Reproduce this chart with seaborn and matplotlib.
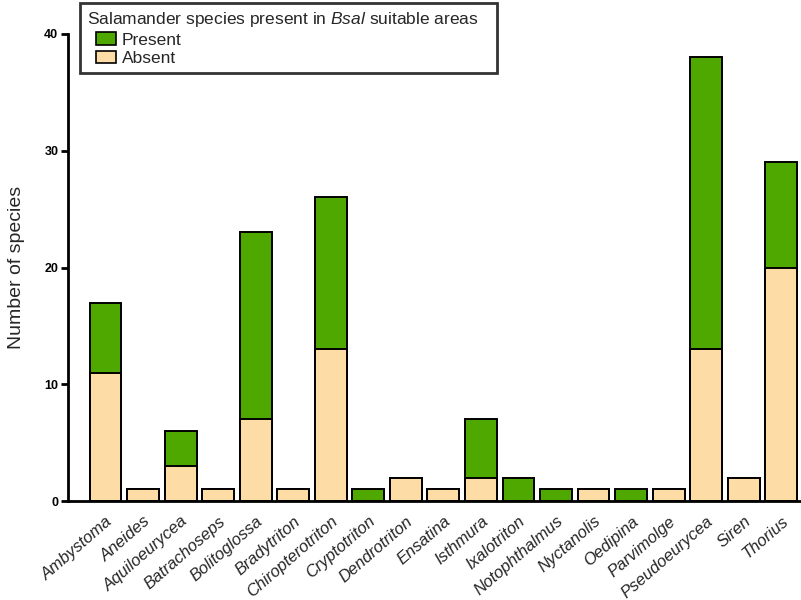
import matplotlib
matplotlib.use("Agg")
import matplotlib.pyplot as plt
import matplotlib.patches as mpatches
from matplotlib.legend_handler import HandlerPatch
import seaborn as sns
import pandas as pd

genera = ["Ambystoma", "Aneides", "Aquiloeurycea", "Batrachoseps", "Bolitoglossa",
          "Bradytriton", "Chiropterotriton", "Cryptotriton", "Dendrotriton", "Ensatina",
          "Isthmura", "Ixalotriton", "Notophthalmus", "Nyctanolis", "Oedipina",
          "Parvimolge", "Pseudoeurycea", "Siren", "Thorius"]
absent = [11, 1, 3, 1, 7, 1, 13, 0, 2, 1, 2, 0, 0, 1, 0, 1, 13, 2, 20]
present = [6, 0, 3, 0, 16, 0, 13, 1, 0, 0, 5, 2, 1, 0, 1, 0, 25, 0, 9]
y_ticks = [0, 10, 20, 30, 40]

GREEN = "#4fa800"
PEACH = "#fedca6"

sns.set_theme(style="white")
plt.rcParams["font.family"] = ["Liberation Sans", "DejaVu Sans"]
plt.rcParams["mathtext.fontset"] = "custom"
plt.rcParams["mathtext.rm"] = "Liberation Sans"
plt.rcParams["mathtext.it"] = "Liberation Sans:italic"

df = pd.DataFrame({"genus": genera, "absent": absent, "present": present})
df["total"] = df["absent"] + df["present"]

fig = plt.figure(figsize=(8.01, 6.0), dpi=100)
ax = fig.add_axes([68 / 801, 1 - 501 / 600, (800 - 68) / 801, (501 - 34) / 600])

# stacked bars: full height in green, absent part over it in peach
sns.barplot(data=df, x="genus", y="total", color=GREEN, width=0.85,
            edgecolor="black", linewidth=1.4, saturation=1, ax=ax)
sns.barplot(data=df, x="genus", y="absent", color=PEACH, width=0.85,
            edgecolor="black", linewidth=1.4, saturation=1, ax=ax)

ax.set_xlim(-1.0, 18.5)
ax.set_ylim(0, 40)
ax.set_yticks(y_ticks)
ax.set_yticklabels([str(t) for t in y_ticks], fontsize=9, fontweight="bold")
ax.tick_params(axis="y", which="major", direction="out", length=5, width=2,
               left=True, pad=2, colors="black")
ax.tick_params(axis="x", bottom=False, pad=3)
ax.set_xticks(range(len(genera)))
ax.set_xticklabels(genera, rotation=41, ha="right", rotation_mode="anchor",
                   fontsize=12, fontstyle="italic")
ax.set_xlabel("")
ax.set_ylabel("Number of species", fontsize=14, labelpad=14)

sns.despine(ax=ax)
for side in ("left", "bottom"):
    ax.spines[side].set_linewidth(2)
    ax.spines[side].set_color("black")


def indented_swatch(legend, orig_handle, xdescent, ydescent, width, height, fontsize):
    w, h = 15.0, 8.8
    return mpatches.Rectangle((-xdescent + width - w, -ydescent + (height - h) / 2), w, h)


handles = [mpatches.Patch(facecolor=GREEN, edgecolor="black", linewidth=1.2, label="Present"),
           mpatches.Patch(facecolor=PEACH, edgecolor="black", linewidth=1.2, label="Absent")]
leg = fig.legend(handles=handles,
                 title=r"Salamander species present in $\it{Bsal}$ suitable areas",
                 loc="upper left",
                 bbox_to_anchor=(80 / 801, 1 - 76 / 600, 417 / 801, 73 / 600),
                 mode="expand",
                 fontsize=12.5, title_fontsize=12.5, alignment="left",
                 frameon=True, fancybox=False, edgecolor="black",
                 handlelength=1.7, handleheight=0.7, handletextpad=0.3,
                 labelspacing=0.2, borderpad=0.4, borderaxespad=0,
                 handler_map={mpatches.Patch: HandlerPatch(patch_func=indented_swatch)})
leg.get_frame().set_linewidth(2)

fig.savefig("out.png", dpi=100)
